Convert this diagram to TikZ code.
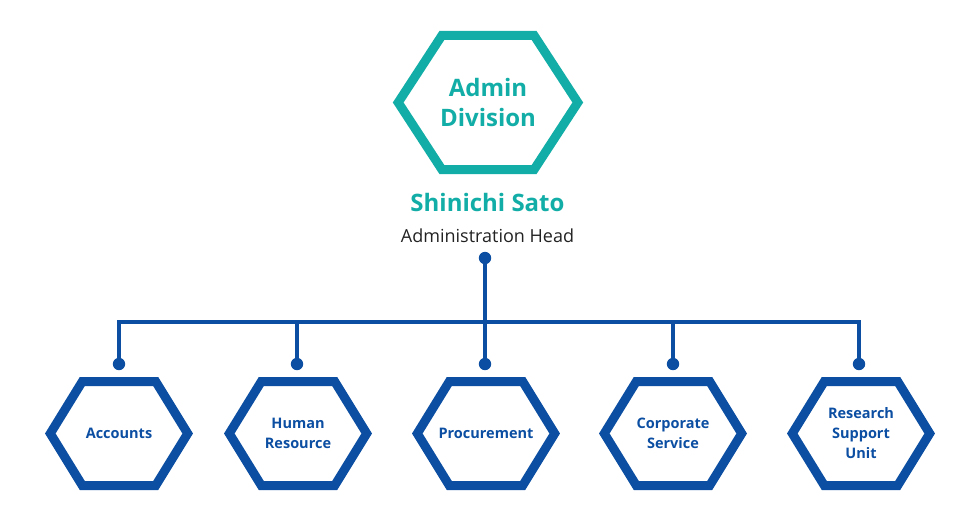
\documentclass[tikz,border=0pt]{standalone}
\usepackage{fontspec}
\setmainfont{Open Sans}
\definecolor{teal1}{HTML}{12ADA6}
\definecolor{blue1}{HTML}{0B4EA2}
\definecolor{gray1}{HTML}{222222}
\begin{document}
\begin{tikzpicture}[x=1pt,y=-1pt,
  hexline/.style={line width=9pt,line join=miter},
  conn/.style={draw=blue1,line width=4.6pt,line join=miter},
  dot/.style={fill=blue1},
  unit/.style={font=\bfseries\fontsize{14.5}{20}\selectfont,text=blue1,align=center,inner sep=0pt}]
\useasboundingbox (0,0) rectangle (980,520);
\newcommand\hexshape[5]{%
  \draw[hexline,draw=#5] ([shift={(-#2,0)}]#1.center) -- ([shift={(-#3,-#4)}]#1.center) -- ([shift={(#3,-#4)}]#1.center) -- ([shift={(#2,0)}]#1.center) -- ([shift={(#3,#4)}]#1.center) -- ([shift={(-#3,#4)}]#1.center) -- cycle;}
% top
\node[font=\bfseries\fontsize{24}{30}\selectfont,text=teal1,align=center,inner sep=0pt] (admin) at (488,102.5) {Admin\\Division};
\hexshape{admin}{89.8}{46}{67.2}{teal1}
\node[font=\bfseries\fontsize{24}{30}\selectfont,text=teal1,anchor=base,inner sep=0pt] (sato) at (487.5,211) {Shinichi Sato};
\node[font=\fontsize{18}{22}\selectfont,text=gray1,anchor=base,inner sep=0pt] (head) at (487.5,242.5) {Administration Head};
% units
\node[unit] (acc) at (119,433.5) {Accounts};
\node[unit] (hr) at (298,433.5) {Human\\Resource};
\node[unit] (proc) at (486,433.5) {Procurement};
\node[unit] (corp) at (673,433.5) {Corporate\\Service};
\node[unit] (res) at (861,433.5) {Research\\Support\\Unit};
\foreach \n in {acc,hr,proc,corp,res}{\hexshape{\n}{68.7}{36.7}{52}{blue1}}
% connectors
\coordinate (topdot) at (485,258);
\coordinate (accdot) at (119,364);
\coordinate (hrdot) at (297,364);
\coordinate (procdot) at (485,364);
\coordinate (corpdot) at (673,364);
\coordinate (resdot) at (859,364);
\coordinate (busL) at (119,322);
\coordinate (busR) at (859,322);
\draw[conn] (accdot) -- (busL) -- (busR) -- (resdot);
\draw[conn] (topdot) -- (procdot);
\draw[conn] (hrdot) -- (hrdot |- busL);
\draw[conn] (corpdot) -- (corpdot |- busL);
\foreach \p in {topdot,accdot,hrdot,procdot,corpdot,resdot}{\fill[dot] (\p) circle (6.2);}
\end{tikzpicture}
\end{document}
